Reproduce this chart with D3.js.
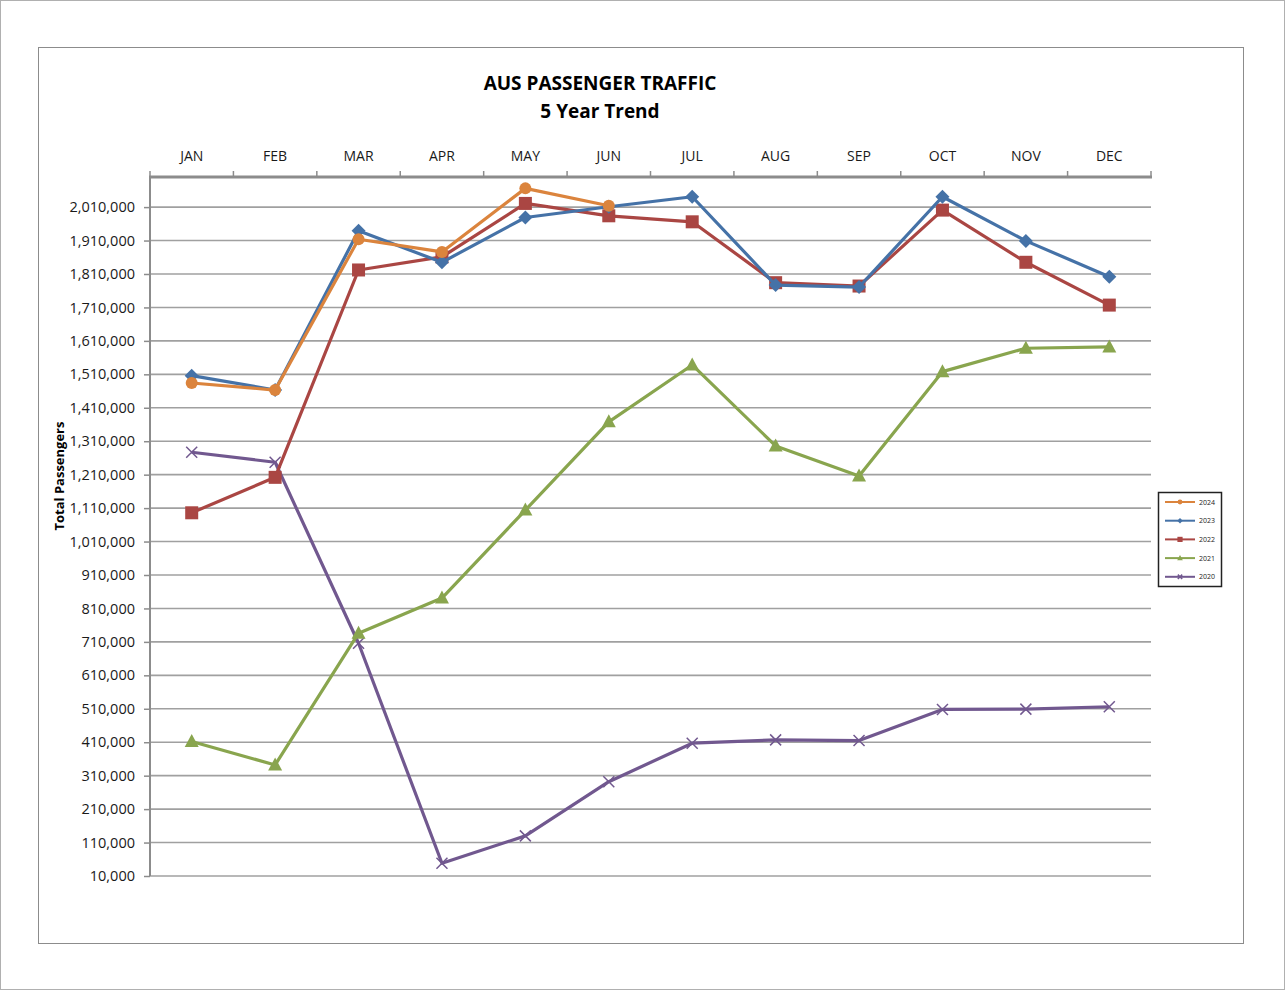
<!DOCTYPE html>
<html><head><meta charset="utf-8">
<script src="https://cdn.jsdelivr.net/npm/d3@7"></script>
<style>body{margin:0;background:#fff}svg{display:block}</style>
</head><body>
<svg id="c" width="1285" height="990"></svg>
<script>
const months = ["JAN","FEB","MAR","APR","MAY","JUN","JUL","AUG","SEP","OCT","NOV","DEC"];
const yTickValues = [10000,110000,210000,310000,410000,510000,610000,710000,810000,910000,1010000,1110000,1210000,1310000,1410000,1510000,1610000,1710000,1810000,1910000,2010000];
const years = ["2024","2023","2022","2021","2020"];
const v2024 = [1484000,1463000,1914000,1876000,2066000,2014000];
const v2023 = [1506000,1463000,1939000,1845000,1979000,2011000,2041000,1777000,1771000,2041000,1909000,1802000];
const v2022 = [1096000,1202000,1822000,1861000,2021000,1984000,1966000,1784000,1774000,2001000,1845000,1717000];
const v2021 = [412000,342000,736000,841000,1104000,1368000,1538000,1296000,1206000,1518000,1588000,1592000];
const v2020 = [1277000,1247000,706000,48000,130000,292000,407000,417000,415000,508000,509000,516000];

const seriesList = [
  {name:years[0], values:v2024, color:"#DB843D", marker:"circle"},
  {name:years[1], values:v2023, color:"#4572A7", marker:"diamond"},
  {name:years[2], values:v2022, color:"#AA4643", marker:"square"},
  {name:years[3], values:v2021, color:"#89A54E", marker:"triangle"},
  {name:years[4], values:v2020, color:"#71588F", marker:"x"}
];

const svg = d3.select("#c");
const FONT = "'Open Sans', sans-serif";

// outer borders
svg.append("rect").attr("x",0.5).attr("y",0.5).attr("width",1284).attr("height",989)
  .attr("fill","none").attr("stroke","#b0b0b0");
svg.append("rect").attr("x",38.5).attr("y",47.5).attr("width",1205).attr("height",896)
  .attr("fill","none").attr("stroke","#8c8c8c");

const L=150, R=1151, T=177, B=876;
const x = d3.scaleBand().domain(months).range([L,R]);
const cx = m => x(m) + x.bandwidth()/2;
const y = d3.scaleLinear().domain([10000,2100000]).range([B,T]);

// gridlines
svg.append("g").selectAll("line").data(yTickValues).join("line")
  .attr("x1",L).attr("x2",R).attr("y1",d=>y(d)).attr("y2",d=>y(d))
  .attr("stroke","#a0a0a0").attr("stroke-width",1.6);

// left axis
const yAxis = d3.axisLeft(y).tickValues(yTickValues).tickFormat(d3.format(",")).tickSize(6).tickPadding(9);
const gy = svg.append("g").attr("transform",`translate(${L},0)`).call(yAxis);
gy.select(".domain").attr("stroke","#8c8c8c").attr("stroke-width",2).attr("d",`M0,${T}V${B}`);
gy.selectAll(".tick line").attr("stroke","#8c8c8c").attr("stroke-width",1.5);
gy.selectAll(".tick text").attr("font-family",FONT).attr("font-size",14.5).attr("fill","#1a1a1a");

// top axis (category)
const xAxis = d3.axisTop(x).tickSize(0).tickPadding(16);
const gx = svg.append("g").attr("transform",`translate(0,${T})`).call(xAxis);
gx.select(".domain").remove();
gx.selectAll(".tick text").attr("font-family",FONT).attr("font-size",14).attr("fill","#1a1a1a");
svg.append("line").attr("x1",L-1).attr("x2",R+1).attr("y1",T).attr("y2",T)
  .attr("stroke","#8c8c8c").attr("stroke-width",3);
const bounds = months.map(m=>x(m)).concat([R]);
svg.append("g").selectAll("line").data(bounds).join("line")
  .attr("x1",d=>d).attr("x2",d=>d).attr("y1",T).attr("y2",T-6)
  .attr("stroke","#8c8c8c").attr("stroke-width",1.5);

// title
svg.append("text").attr("x",600).attr("y",90).attr("text-anchor","middle")
  .attr("font-family",FONT).attr("font-weight","bold").attr("font-size",19).text("AUS PASSENGER TRAFFIC");
svg.append("text").attr("x",600).attr("y",118).attr("text-anchor","middle")
  .attr("font-family",FONT).attr("font-weight","bold").attr("font-size",19).text("5 Year Trend");

// y title
svg.append("text").attr("transform","translate(64,476) rotate(-90)").attr("text-anchor","middle")
  .attr("font-family",FONT).attr("font-weight","bold").attr("font-size",13).text("Total Passengers");

function drawMarker(g, type, color, px, py, s) {
  if (type==="circle") g.append("circle").attr("cx",px).attr("cy",py).attr("r",6*s).attr("fill",color);
  else if (type==="diamond") g.append("path").attr("d",`M${px},${py-7*s}L${px+7*s},${py}L${px},${py+7*s}L${px-7*s},${py}Z`).attr("fill",color);
  else if (type==="square") g.append("rect").attr("x",px-6.5*s).attr("y",py-6.5*s).attr("width",13*s).attr("height",13*s).attr("fill",color);
  else if (type==="triangle") g.append("path").attr("d",`M${px},${py-7.5*s}L${px+7*s},${py+5.5*s}L${px-7*s},${py+5.5*s}Z`).attr("fill",color);
  else if (type==="x") g.append("path").attr("d",`M${px-5.5*s},${py-5.5*s}L${px+5.5*s},${py+5.5*s}M${px+5.5*s},${py-5.5*s}L${px-5.5*s},${py+5.5*s}`).attr("stroke",color).attr("stroke-width",1.5).attr("fill","none");
}

const line = d3.line().x((d,i)=>cx(months[i])).y(d=>y(d));
[...seriesList].reverse().forEach(s=>{
  const g = svg.append("g");
  g.append("path").datum(s.values).attr("d",line).attr("fill","none")
    .attr("stroke",s.color).attr("stroke-width",3.2).attr("stroke-linejoin","round");
  s.values.forEach((v,i)=>drawMarker(g,s.marker,s.color,cx(months[i]),y(v),1));
});

// legend
const lg = svg.append("g");
lg.append("rect").attr("x",1158.5).attr("y",492.5).attr("width",63).attr("height",94)
  .attr("fill","#fff").attr("stroke","#222").attr("stroke-width",1.5);
seriesList.forEach((s,i)=>{
  const ly = 502 + i*18.7;
  lg.append("line").attr("x1",1165).attr("x2",1195).attr("y1",ly).attr("y2",ly).attr("stroke",s.color).attr("stroke-width",2);
  drawMarker(lg,s.marker,s.color,1180,ly,0.4);
  lg.append("text").attr("x",1199).attr("y",ly+2.5).attr("font-family",FONT).attr("font-size",7).attr("fill","#222").text(s.name);
});
</script>
</body></html>
